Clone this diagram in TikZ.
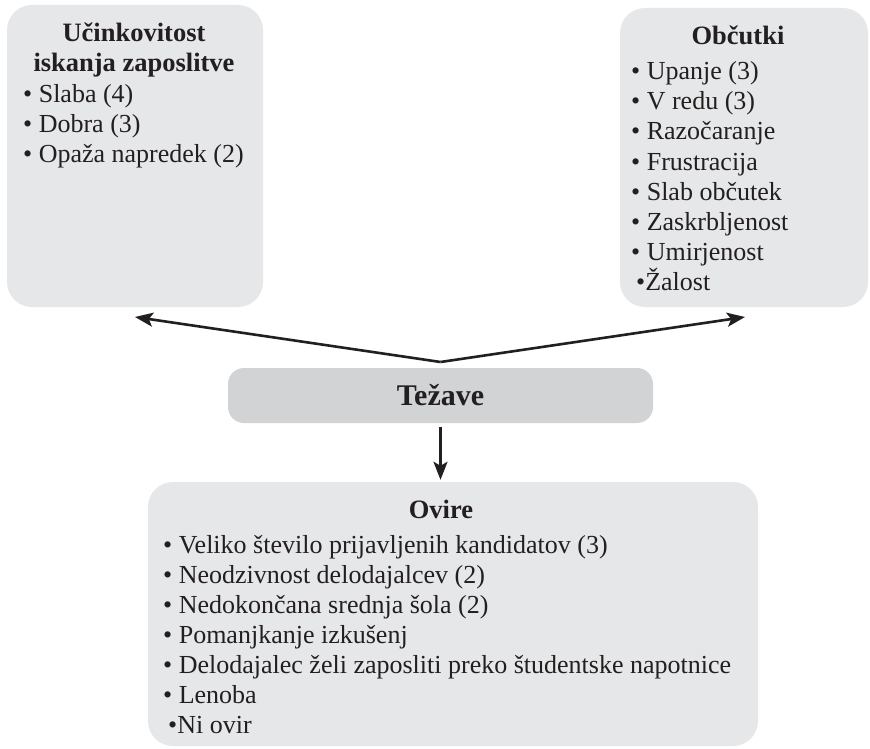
\documentclass[tikz,border=0pt]{standalone}
\usepackage{fontspec}
\setmainfont{Liberation Serif}
\usetikzlibrary{arrows.meta}
\definecolor{boxgray}{HTML}{E6E7E8}
\definecolor{midgray}{HTML}{D1D3D4}
\definecolor{ink}{HTML}{231F20}
\begin{document}
\begin{tikzpicture}[x=1pt,y=-1pt,
  panel/.style={draw=none, fill=boxgray, rounded corners=25pt, inner sep=0pt},
  hubbox/.style={draw=none, fill=midgray, rounded corners=16pt, inner sep=0pt,
    text=ink, font=\fontsize{30}{32}\selectfont\bfseries, text height=20pt, text depth=0pt},
  title/.style={anchor=base, inner sep=0pt, text=ink, font=\fontsize{26.5}{30}\selectfont\bfseries},
  item/.style={anchor=base west, inner sep=0pt, text=ink, font=\fontsize{26}{30}\selectfont},
  conn/.style={draw=ink, line width=2.6pt, -{Stealth[length=18pt,width=14pt,inset=4pt]}}
]
\useasboundingbox (0,0) rectangle (870,749);
\fill[white] (0,0) rectangle (870,749);

% panels
\node[panel, minimum width=256pt, minimum height=302pt] (L) at (135,156) {};
\node[panel, minimum width=248pt, minimum height=299pt] (R) at (744,157.5) {};
\node[hubbox, minimum width=425pt, minimum height=55pt] (T) at (440.5,395.5) {Težave};
\node[panel, minimum width=610pt, minimum height=264pt] (B) at (453,614) {};

% left panel text
\node[title] (Lt1) at (134,42) {Učinkovitost};
\node[title] (Lt2) at (134,72) {iskanja zaposlitve};
\foreach \t [count=\i] in {Slaba (4), Dobra (3), Opaža napredek (2)}
  \node[item] (Li\i) at (23,{103+30*(\i-1)}) {• \t};

% right panel text
\node[title] (Rt) at (738,45) {Občutki};
\foreach \t [count=\i] in {Upanje (3), V redu (3), Razočaranje, Frustracija, Slab občutek, Zaskrbljenost, Umirjenost}
  \node[item] (Ri\i) at (631,{80+30*(\i-1)}) {• \t};
\node[item] (Ri8) at (636,290) {•Žalost};

% bottom panel text
\node[title] (Bt) at (441,518) {Ovire};
\foreach \t [count=\i] in {Veliko število prijavljenih kandidatov (3), Neodzivnost delodajalcev (2), Nedokončana srednja šola (2), Pomanjkanje izkušenj, Delodajalec želi zaposliti preko študentske napotnice, Lenoba}
  \node[item] (Bi\i) at (163,{553+30*(\i-1)}) {• \t};
\node[item] (Bi7) at (168,733) {•Ni ovir};

% connectors
\coordinate (apex) at (440.5,362);
\coordinate (ltip) at (135,317);
\coordinate (rtip) at (745,317);
\draw[conn] (apex) -- (ltip);
\draw[conn] (apex) -- (rtip);
\draw[conn, shorten <=4pt, shorten >=2pt] (T.south) -- (T.south |- B.north);
\end{tikzpicture}
\end{document}
